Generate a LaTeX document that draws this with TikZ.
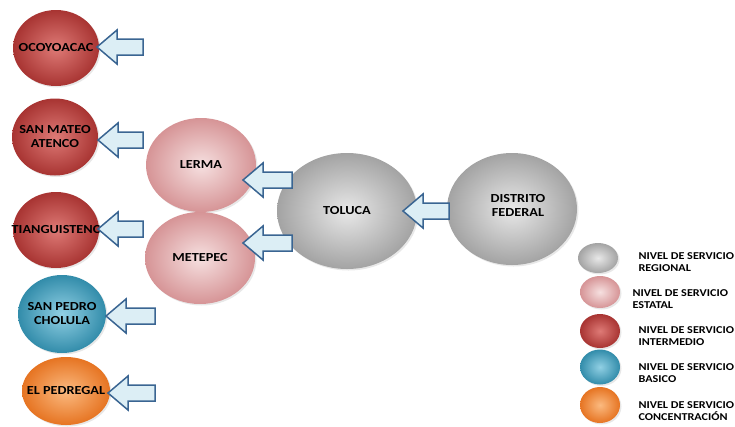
\documentclass[tikz,border=0pt]{standalone}
\usepackage{fontspec}
\setmainfont[FakeStretch=1.16]{Carlito}
\usetikzlibrary{positioning, calc, shapes.geometric, shadows}

\definecolor{azulosc}{HTML}{3A6592}
\definecolor{azulcl}{HTML}{DCEEF5}

\tikzset{
    nivel/.style={ellipse, inner sep=0pt,
        drop shadow={shadow xshift=1.5pt, shadow yshift=-1.5pt, opacity=0.18}},
    regional/.style={nivel, inner color=gray!18, outer color=gray!72},
    estatal/.style={nivel, inner color={rgb,255:red,246;green,224;blue,224}, outer color={rgb,255:red,214;green,148;blue,150}},
    intermedio/.style={nivel, inner color={rgb,255:red,222;green,122;blue,118}, outer color={rgb,255:red,168;green,52;blue,50}},
    basico/.style={nivel, inner color={rgb,255:red,145;green,208;blue,228}, outer color={rgb,255:red,50;green,140;blue,170}},
    concentracion/.style={nivel, inner color={rgb,255:red,251;green,186;blue,128}, outer color={rgb,255:red,230;green,116;blue,34}},
    rotulo/.style={align=center, text=black, font=\bfseries\fontsize{12.3}{14}\selectfont},
    leyenda/.style={anchor=west, align=left, text=black, font=\bfseries\fontsize{10.5}{12.5}\selectfont},
    flecha/.style={draw=azulosc, fill=azulcl, line width=1.5pt, line join=miter},
}

% flecha de bloque: punta en #1, largo #2
\newcommand{\bloqueflecha}[2]{%
    \draw[flecha] (#1) -- ++(20,17) -- ++(0,-9) -- ++(#2-20,0) -- ++(0,-16)
        -- ++(-#2+20,0) -- ++(0,-9) -- cycle;}

\begin{document}
\begin{tikzpicture}[x=1pt, y=-1pt]
    \useasboundingbox (0,0) rectangle (735,426);

    % columna izquierda
    \foreach \nom/\pos/\est/\w/\h/\txt in {
        ocoy/{56,48}/intermedio/86/76/{OCOYOACAC},
        mateo/{55,137}/intermedio/86/77/{SAN MATEO\\ATENCO},
        tiang/{56,230}/intermedio/86/76/{TIANGUISTENC},
        pedro/{62,314}/basico/88/78/{SAN PEDRO\\CHOLULA},
        pedregal/{66,391}/concentracion/88/68/{EL PEDREGAL}}
        \node[\est, minimum width=\w pt, minimum height=\h pt,
              label={[rotulo]center:\txt}] (\nom) at (\pos) {};

    % nivel estatal y regional
    \node[estatal, minimum width=110pt, minimum height=94pt,
          label={[rotulo]center:LERMA}] (lerma) at (201,165) {};
    \node[estatal, minimum width=110pt, minimum height=92pt,
          label={[rotulo]center:METEPEC}] (metepec) at (200,258) {};
    \node[regional, minimum width=140pt, minimum height=116pt,
          label={[rotulo]center:TOLUCA}] (toluca) at (347,211) {};
    \node[regional, minimum width=130pt, minimum height=112pt,
          label={[rotulo, yshift=4pt, xshift=6pt]center:DISTRITO\\FEDERAL}] (df) at (512,209) {};

    % flechas
    \foreach \p/\l in {{97,47}/46, {98,140}/45, {98,229}/45, {106,316}/49,
                      {108,393}/47, {243,180}/49, {243,243}/49, {403,211}/46}
        \bloqueflecha{\p}{\l};

    % leyenda
    \node[regional, minimum width=40pt, minimum height=30pt] (lreg) at (598,258) {};
    \node[estatal, minimum width=40pt, minimum height=32pt] (lest) at (600,292) {};
    \node[intermedio, minimum width=40pt, minimum height=34pt] (lint) at (600,331) {};
    \node[basico, minimum width=40pt, minimum height=35pt] (lbas) at (600,367) {};
    \node[concentracion, minimum width=40pt, minimum height=36pt] (lcon) at (600,405) {};

    \node[leyenda] (treg) at (635,262) {NIVEL DE SERVICIO\\REGIONAL};
    \node[leyenda] (test) at (629,299) {NIVEL DE SERVICIO\\ESTATAL};
    \node[leyenda] (tint) at (635,336) {NIVEL DE SERVICIO\\INTERMEDIO};
    \node[leyenda] (tbas) at (635,373) {NIVEL DE SERVICIO\\BASICO};
    \node[leyenda] (tcon) at (635,411) {NIVEL DE SERVICIO\\CONCENTRACIÓN};
\end{tikzpicture}
\end{document}
